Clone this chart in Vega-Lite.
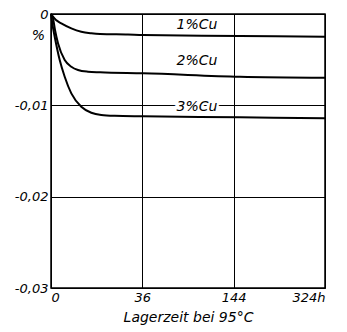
{
  "$schema": "https://vega.github.io/schema/vega-lite/v6.json",
  "width": 274,
  "height": 274,
  "autosize": "none",
  "padding": {"left": 51, "top": 14, "right": 22, "bottom": 44},
  "background": "white",
  "config": {
    "view": {"stroke": "black", "strokeWidth": 1.5},
    "font": "DejaVu Sans"
  },
  "datasets": {
    "curves": [
      {"s": "1", "t": 0, "v": 0},
      {"s": "1", "t": 0.0173, "v": -0.0003},
      {"s": "1", "t": 0.108, "v": -0.00066},
      {"s": "1", "t": 0.458, "v": -0.00102},
      {"s": "1", "t": 1.78, "v": -0.00157},
      {"s": "1", "t": 3.96, "v": -0.00194},
      {"s": "1", "t": 7.01, "v": -0.00211},
      {"s": "1", "t": 10.4, "v": -0.00219},
      {"s": "1", "t": 25.6, "v": -0.00225},
      {"s": "1", "t": 36.5, "v": -0.0023},
      {"s": "1", "t": 154, "v": -0.0024},
      {"s": "1", "t": 324, "v": -0.0025},
      {"s": "2", "t": 0, "v": 0},
      {"s": "2", "t": 0.0173, "v": -0.00047},
      {"s": "2", "t": 0.069, "v": -0.00175},
      {"s": "2", "t": 0.2115, "v": -0.00321},
      {"s": "2", "t": 0.81, "v": -0.00504},
      {"s": "2", "t": 1.78, "v": -0.00577},
      {"s": "2", "t": 3.15, "v": -0.00613},
      {"s": "2", "t": 5.91, "v": -0.00632},
      {"s": "2", "t": 10.4, "v": -0.00639},
      {"s": "2", "t": 36.5, "v": -0.0065},
      {"s": "2", "t": 154, "v": -0.00687},
      {"s": "2", "t": 324, "v": -0.00698},
      {"s": "3", "t": 0, "v": 0},
      {"s": "3", "t": 0.0097, "v": -0.0012},
      {"s": "3", "t": 0.059, "v": -0.00249},
      {"s": "3", "t": 0.327, "v": -0.00504},
      {"s": "3", "t": 0.81, "v": -0.00687},
      {"s": "3", "t": 1.78, "v": -0.00869},
      {"s": "3", "t": 3.96, "v": -0.01015},
      {"s": "3", "t": 7.01, "v": -0.01081},
      {"s": "3", "t": 10.9, "v": -0.01106},
      {"s": "3", "t": 17.5, "v": -0.01115},
      {"s": "3", "t": 36.5, "v": -0.0112},
      {"s": "3", "t": 154, "v": -0.01131},
      {"s": "3", "t": 324, "v": -0.01142}
    ],
    "labels": [
      {"t": 92, "v": -0.0012, "label": "1%Cu"},
      {"t": 92, "v": -0.0052, "label": "2%Cu"},
      {"t": 92, "v": -0.0102, "label": "3%Cu"}
    ]
  },
  "layer": [
    {
      "data": {"name": "curves"},
      "mark": {"type": "line", "color": "black", "strokeWidth": 2, "interpolate": "monotone"},
      "encoding": {
        "x": {
          "field": "t", "type": "quantitative",
          "scale": {"type": "sqrt", "domain": [0, 324], "nice": false, "zero": true},
          "axis": {
            "values": [0, 36, 144, 324],
            "labelExpr": "datum.value == 324 ? '324h' : datum.label",
            "title": "Lagerzeit bei 95°C",
            "titleFont": "DejaVu Sans", "titleFontStyle": "italic", "titleFontWeight": "normal",
            "titleFontSize": 14, "titleColor": "black", "titlePadding": 6,
            "labelFont": "DejaVu Sans", "labelFontStyle": "italic", "labelFontSize": 13,
            "labelColor": "black", "labelPadding": 3,
            "domain": false, "ticks": false,
            "grid": true, "gridColor": "black", "gridWidth": 1, "gridOpacity": 1
          }
        },
        "y": {
          "field": "v", "type": "quantitative",
          "scale": {"domain": [-0.03, 0], "nice": false, "zero": false},
          "axis": {
            "values": [0, -0.01, -0.02, -0.03],
            "labelExpr": "datum.value == 0 ? '0' : replace('-' + format(abs(datum.value), '.2f'), '.', ',')",
            "title": "%",
            "titleAngle": 0, "titleX": -13, "titleY": 28, "titleAlign": "center",
            "titleFont": "DejaVu Sans", "titleFontStyle": "italic", "titleFontWeight": "normal",
            "titleFontSize": 14, "titleColor": "black",
            "labelFont": "DejaVu Sans", "labelFontStyle": "italic", "labelFontSize": 13,
            "labelColor": "black", "labelPadding": 3,
            "domain": false, "ticks": false,
            "grid": true, "gridColor": "black", "gridWidth": 1, "gridOpacity": 1
          }
        },
        "detail": {"field": "s"}
      }
    },
    {
      "data": {"name": "labels"},
      "mark": {"type": "text", "font": "DejaVu Sans", "fontStyle": "italic", "fontSize": 14, "stroke": "white", "strokeWidth": 5, "color": "white"},
      "encoding": {
        "x": {"field": "t", "type": "quantitative"},
        "y": {"field": "v", "type": "quantitative"},
        "text": {"field": "label"}
      }
    },
    {
      "data": {"name": "labels"},
      "mark": {"type": "text", "font": "DejaVu Sans", "fontStyle": "italic", "fontSize": 14, "color": "black"},
      "encoding": {
        "x": {"field": "t", "type": "quantitative"},
        "y": {"field": "v", "type": "quantitative"},
        "text": {"field": "label"}
      }
    }
  ]
}
